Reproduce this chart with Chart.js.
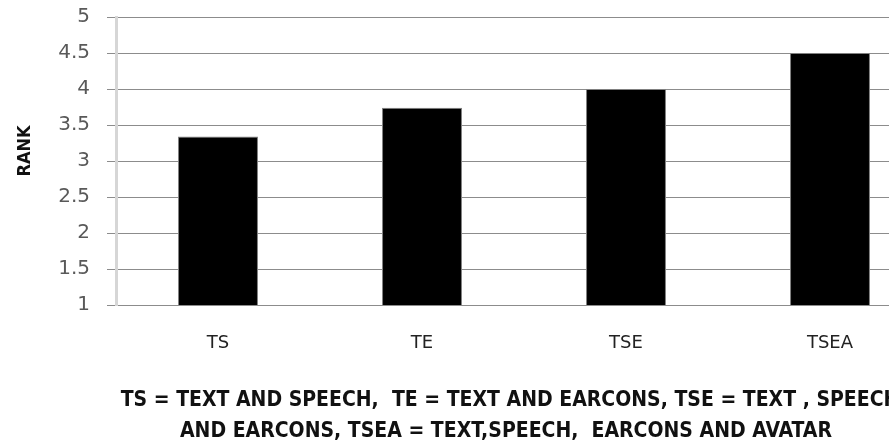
<!DOCTYPE html>
<html>
<head>
<meta charset="utf-8">
<script src="https://cdn.jsdelivr.net/npm/chart.js@4"></script>
<style>
  html, body { margin: 0; padding: 0; background: #fff; overflow: hidden; }
  #wrap { width: 932px; height: 447px; }
</style>
</head>
<body>
<div id="wrap"><canvas id="rankChart"></canvas></div>
<script>
// Categories and mean rank per presentation mode
const categories = ["TS", "TE", "TSE", "TSEA"];
const rankValues = [3.34, 3.74, 4.0, 4.5];
const footnoteLines = [
    "TS = TEXT AND SPEECH,  TE = TEXT AND EARCONS, TSE = TEXT , SPEECH",
    "AND EARCONS, TSEA = TEXT,SPEECH,  EARCONS AND AVATAR"
];

const narrowFont = "'Liberation Sans Narrow', 'DejaVu Sans Condensed', 'DejaVu Sans', sans-serif";

// footnote under the axis, and the rotated axis name a bit above centre
const footnotePlugin = {
    id: "footnote",
    afterDraw(chart) {
        const ctx = chart.ctx;
        ctx.save();
        ctx.fillStyle = "#111";
        ctx.font = "bold 21px " + narrowFont;
        ctx.textAlign = "center";
        ctx.textBaseline = "middle";
        ctx.fillText(footnoteLines[0], 510, 401);
        ctx.fillText(footnoteLines[1], 506, 432);
        ctx.translate(25, 151);
        ctx.rotate(-Math.PI / 2);
        ctx.font = "bold 18px " + narrowFont;
        ctx.fillText("RANK", 0, 0);
        ctx.restore();
    }
};

const ctx = document.getElementById("rankChart").getContext("2d");
new Chart(ctx, {
    type: "bar",
    data: {
        labels: categories,
        datasets: [{
            label: "Rank",
            data: rankValues,
            backgroundColor: "#000",
            borderColor: "#808080",
            borderWidth: 1,
            barPercentage: 0.392,
            categoryPercentage: 1
        }]
    },
    options: {
        responsive: true,
        maintainAspectRatio: false,
        animation: false,
        layout: { padding: { top: 17, left: 0, right: 0, bottom: 0 } },
        plugins: {
            legend: { display: false },
            tooltip: { enabled: false }
        },
        scales: {
            x: {
                grid: { display: false, drawTicks: false },
                border: { display: true, color: "#8c8c8c", width: 1 },
                ticks: {
                    color: "#222",
                    padding: 28,
                    font: { family: "'DejaVu Sans', sans-serif", size: 18 }
                },
                afterFit: (scale) => {
                    scale.height = 142;
                    scale.paddingLeft = 0;
                    scale.paddingRight = 0;
                }
            },
            y: {
                min: 1,
                max: 5,
                ticks: {
                    stepSize: 0.5,
                    color: "#595959",
                    padding: 17,
                    font: { family: "'DejaVu Sans', sans-serif", size: 20 },
                    callback: (value) => String(value)
                },
                grid: { color: "#8c8c8c", lineWidth: 1, tickLength: 9 },
                border: { display: true, color: "#d6d6d6", width: 3 },
                afterFit: (scale) => {
                    scale.width = 116;
                    scale.paddingTop = 0;
                    scale.paddingBottom = 0;
                }
            }
        }
    },
    plugins: [footnotePlugin]
});
</script>
</body>
</html>
